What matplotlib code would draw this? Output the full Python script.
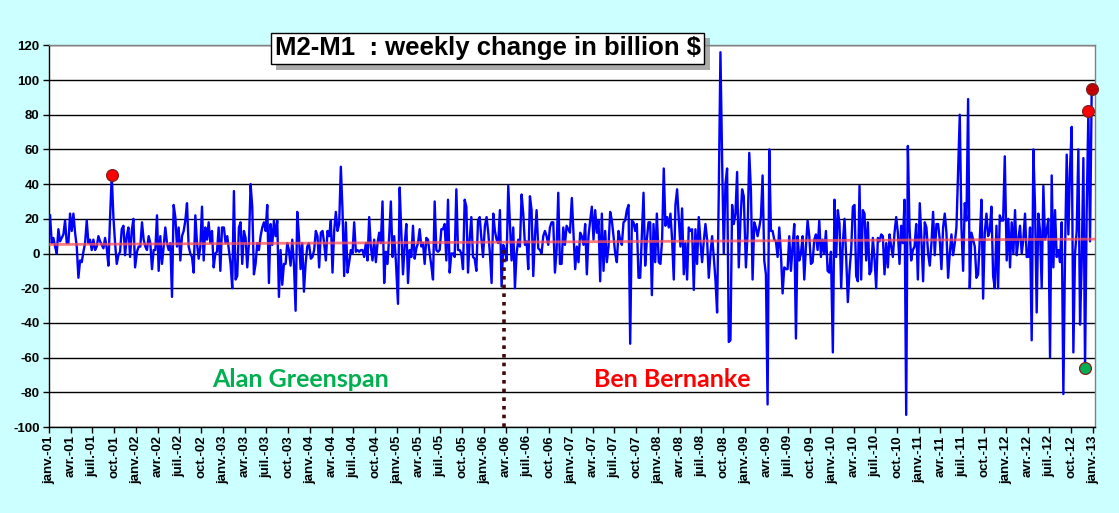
import numpy as np
import pandas as pd
import matplotlib
matplotlib.use("Agg")
import matplotlib.pyplot as plt
import matplotlib.dates as mdates
from matplotlib.patheffects import withSimplePatchShadow

# ---- data: weekly change of M2-M1 (billion $), one list per year ----
y2001 = [22, 6, 9, 4, 0, 14, 7, 9, 11, 19, 6, 6, 23, 13, 23, 12, 4, -14, -4, -5,
         1, 6, 19, 6, 8, 2, 8, 2, 4, 10, 7, 5, 3, 9, 3, -7, 21, 45, 21, 6,
         -6, -1, 1, 14, 16, -1, 10, 15, -2, 13, 20, -8]
y2002 = [1, 4, 4, 18, 8, 4, 2, 10, 6, -9, 2, 2, 22, -10, 10, -6, 4, 15, 6, 2,
         6, -25, 28, 21, 4, 15, -4, 10, 13, 19, 29, 4, 0, -2, -11, 22, 6, -3, 4, 27,
         -4, 15, 8, 18, 6, 13, -8, 0, 1, 15, -10, 15]
y2003 = [15, 6, 10, 2, -6, -20, 36, -15, -13, 15, 18, -6, 13, 9, -8, 6, 40, 27, -12, -6,
         6, 2, 10, 15, 18, 13, 28, -17, 17, 5, 19, 10, 19, -25, 2, -18, -6, -6, 6, 2,
         -7, 8, -6, -33, 24, 10, -9, 6, -22, -6, 4, 6]
y2004 = [-3, -2, 2, 13, 10, -8, 12, 13, 6, -4, 13, 10, 19, -11, 13, 24, 13, 17, 50, 25,
         -13, 18, -11, -5, 2, 0, 18, 1, 2, 1, 2, 2, -2, 6, -4, 21, 4, -4, 8, -5,
         6, 12, 6, 30, -17, 1, -6, 10, 30, -2, 10, -4]
y2005 = [-29, 38, 12, -12, 5, 17, -17, 2, -2, 16, -3, 3, 6, 14, 4, 6, -6, 9, 8, 0,
         -7, -15, 30, 2, 1, 2, 14, 14, 17, -4, 31, -11, 0, 0, -2, 37, 2, 2, 0, -9,
         31, 27, -11, 8, 21, -2, -3, -10, 19, 21, 9, -2]
y2006 = [16, 21, 12, 0, -17, 23, 13, 8, 6, 25, -19, 5, 2, -4, 39, 17, -4, 15, -20, 0,
         8, 4, 34, 23, 5, 7, -9, 33, 25, -13, 10, 25, 3, 2, 0, 10, 13, 10, 5, 15,
         18, 18, -11, 2, 35, -6, -6, 15, 5, 16, 14, 12]
y2007 = [32, 12, -9, 4, -5, 12, 10, 5, 17, -12, 10, 19, 27, 8, 25, 12, 19, -16, 23, -10,
         13, -5, 4, 24, 19, 10, 0, -5, 13, 8, 5, 18, 19, 25, 28, -52, 19, 18, 13, 17,
         -14, -14, 10, 35, -7, 8, 18, 18, -24, 17, -5, 23]
y2008 = [-5, -6, 8, 49, 16, 21, 15, 23, 8, -15, 28, 37, 21, 4, 26, -12, 6, -15, 15, 13,
         14, -21, 14, -6, 21, 7, -5, 7, 17, 8, -14, 0, 10, -2, -15, -34, 35, 116, 54, 0,
         40, 49, -51, -50, 28, 17, 23, 47, -8, 19, 37, 33]
y2009 = [-8, 12, 58, 36, -15, 18, 15, 10, 15, 21, 45, -4, -12, -87, 60, 13, 13, 8, 7, -2,
         15, 0, -23, -8, -9, -9, 10, -10, 4, 17, -49, 10, -4, 0, 10, -15, 4, 19, 10, -6,
         -5, 8, 11, 2, 19, -2, 8, 0, 13, -10, -11, 1]
y2010 = [-57, 31, -2, 25, 17, -20, 6, 20, -2, -28, -10, 2, 27, 28, -13, -16, 39, -15, 25, 23,
         -4, 18, -12, -10, 9, -3, -20, 9, 7, 11, 10, -12, 6, -8, 11, 4, -2, 12, 21, 12,
         -6, 16, 6, 31, -93, 62, 15, -4, 2, 4, 17, -15]
y2011 = [29, 8, -16, 18, 15, 0, -7, 6, 24, -1, 17, 17, 8, -9, 15, 23, 12, -14, 0, 11,
         -1, 6, 15, 48, 80, 15, -10, 29, 19, 89, -20, 12, 8, 4, -14, -12, 8, 31, -26, 12,
         23, 10, 13, 27, -13, -20, 16, -20, 22, 19, 19, 56]
y2012 = [-4, 20, -8, 18, 0, 25, -1, 8, 16, 0, 8, 23, -2, -2, 15, -50, 60, 27, -34, 23,
         13, -20, 39, 8, 13, 20, -60, 45, -8, 25, -2, 2, -5, 18, -81, 0, 57, 11, 49, 73,
         -57, 0, 13, 60, -41, -5, 55, -66, 25, 82, 7, 95]
years = {2001: y2001, 2002: y2002, 2003: y2003, 2004: y2004, 2005: y2005, 2006: y2006,
         2007: y2007, 2008: y2008, 2009: y2009, 2010: y2010, 2011: y2011, 2012: y2012}

# highlighted points: (year, week index, colour)
highlights = [(2001, 37, "#FF0000"), (2012, 47, "#00B050"),
              (2012, 49, "#FF0000"), (2012, 51, "#C00000")]

# linear trend line end values
trend_start, trend_end = 5.2, 8.3
trend_dates = ["2001-01-01", "2013-01-08"]

bernanke_date = "2006-03-24"
bernanke_line = [2, -100]

title = "M2-M1  : weekly change in billion $"
label_green = "Alan Greenspan"
label_red = "Ben Bernanke"
month_fr = {1: "janv.", 4: "avr.", 7: "juil.", 10: "oct."}

# ---- build series ----
dates, vals = [], []
for y, v in years.items():
    d0 = pd.Timestamp(f"{y}-01-04")
    dates += list(d0 + pd.to_timedelta(7 * np.arange(len(v)), "D"))
    vals += v
dates = pd.DatetimeIndex(dates)
vals = np.array(vals, dtype=float)

plt.rcParams["font.family"] = ["Liberation Sans", "DejaVu Sans"]
plt.rcParams["axes.unicode_minus"] = False
fig = plt.figure(figsize=(11.19, 5.13), dpi=100, facecolor="#CCFFFF")
ax = fig.add_axes([0.0441, 0.1676, 0.9347, 0.7441])
ax.set_facecolor("white")

ax.set_ylim(-100, 120)
ax.set_yticks(np.arange(-100, 121, 20))
ax.yaxis.grid(True, color="black", linewidth=1.0)
ax.set_axisbelow(True)

ax.plot(dates, vals, color="#0000FF", linewidth=1.7, zorder=3)
ax.plot(pd.to_datetime(trend_dates), [trend_start, trend_end], color="#FF5050",
        alpha=0.75, linewidth=2.0, zorder=4)

ax.plot(pd.to_datetime([bernanke_date] * 2), bernanke_line, color="#3F0A0A",
        linewidth=2.6, linestyle=(0, (1, 1.4)), zorder=5, clip_on=False)

for y, i, c in highlights:
    d = pd.Timestamp(f"{y}-01-04") + pd.Timedelta(days=7 * i)
    ax.plot([d], [years[y][i]], "o", markersize=8.5, markerfacecolor=c,
            markeredgecolor="#7F2020", markeredgewidth=0.9, zorder=6, clip_on=False)

ticks = pd.date_range("2001-01-01", "2013-01-01", freq="QS")
ax.set_xticks(ticks)
ax.set_xticklabels([f"{month_fr[t.month]}-{t.year % 100:02d}" for t in ticks],
                   rotation=90, fontsize=9.5, fontweight="bold")
ax.set_xlim(pd.Timestamp("2001-01-01"), pd.Timestamp("2013-01-10"))
for lab in ax.get_yticklabels():
    lab.set_fontweight("bold")
    lab.set_fontsize(9.5)
ax.tick_params(axis="both", direction="out", length=4, width=1, color="black")
ax.tick_params(axis="y", pad=3)
ax.tick_params(axis="x", pad=2)

for s in ["left", "bottom"]:
    ax.spines[s].set_color("black")
    ax.spines[s].set_linewidth(1)
for s in ["top", "right"]:
    ax.spines[s].set_color("#808080")
    ax.spines[s].set_linewidth(1)

t = fig.text(0.4357, 0.9055, title, ha="center", va="center", fontsize=18.5,
             fontweight="bold", color="black",
             bbox=dict(boxstyle="square,pad=0.15", fc="white", ec="black", lw=1))
t.get_bbox_patch().set_path_effects([withSimplePatchShadow(offset=(4, -4),
                                     shadow_rgbFace="#888888", alpha=0.7)])

ax.text(0.2397, 0.1258, label_green, transform=ax.transAxes, ha="center",
        va="center", fontsize=18, fontweight="bold", color="#00B050",
        family=["Lato", "DejaVu Sans"])
ax.text(0.5953, 0.1258, label_red, transform=ax.transAxes, ha="center",
        va="center", fontsize=18, fontweight="bold", color="#FF0000",
        family=["Lato", "DejaVu Sans"])

fig.savefig("out.png", dpi=100, facecolor=fig.get_facecolor())
